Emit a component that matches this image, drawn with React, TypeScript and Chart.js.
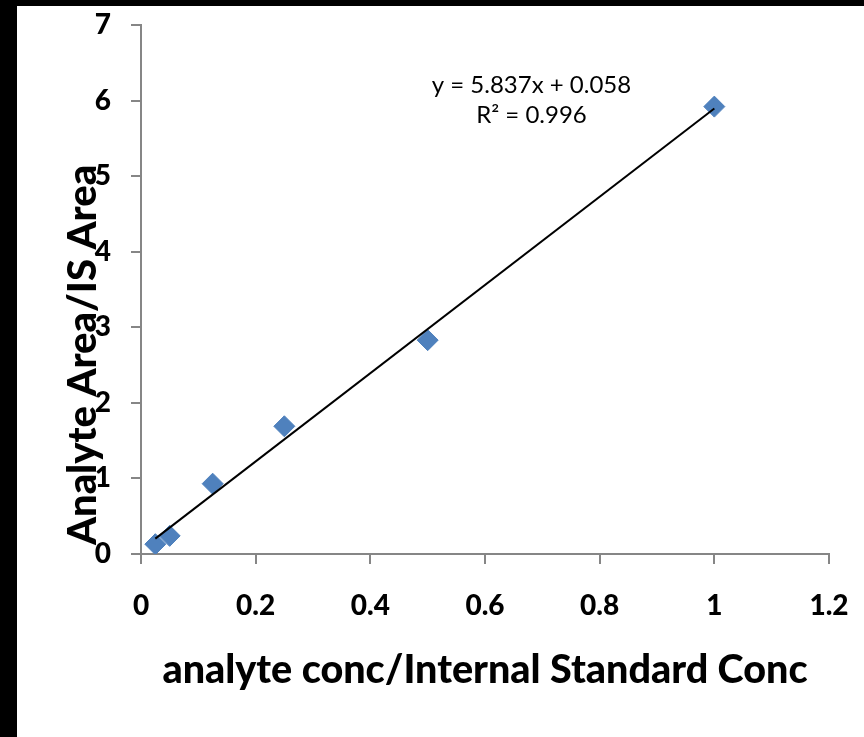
import { useEffect, useRef } from 'react';
import { Chart, registerables } from 'chart.js';

Chart.register(...registerables);

// Data
const concRatio = [0.025, 0.05, 0.125, 0.25, 0.5, 1];
const areaRatio = [0.13, 0.24, 0.93, 1.69, 2.83, 5.92];

// Linear trendline as printed on the chart
const trendSlope = 5.837;
const trendIntercept = 0.058;
const trendRange = [0.025, 1];

const equationText = 'y = 5.837x + 0.058';
const r2Text = 'R² = 0.996';
const xTitle = 'analyte conc/Internal Standard Conc';
const yTitle = 'Analyte Area/IS Area';

const xMin = 0, xMax = 1.2, xStep = 0.2;
const yMin = 0, yMax = 7, yStep = 1;

const FONT = 'Lato, "Open Sans", sans-serif';

export default function App() {
  const ref = useRef<HTMLCanvasElement | null>(null);

  useEffect(() => {
    if (!ref.current) return;
    const deco = {
      id: 'deco',
      beforeDraw(chart: any) {
        const ctx = chart.ctx;
        ctx.save();
        ctx.fillStyle = '#000';
        ctx.fillRect(0, 0, chart.width, chart.height);
        ctx.fillStyle = '#fff';
        ctx.fillRect(17, 6, chart.width - 17, chart.height - 6);
        ctx.restore();
      },
      afterDraw(chart: any) {
        const ctx = chart.ctx;
        const xs = chart.scales.x;
        const ys = chart.scales.y;
        ctx.save();
        ctx.fillStyle = '#000';
        // equation
        ctx.font = `24px ${FONT}`;
        ctx.textAlign = 'center';
        ctx.textBaseline = 'alphabetic';
        const ex = xs.getPixelForValue(0.681);
        ctx.fillText(equationText, ex, ys.getPixelForValue(6.1));
        ctx.fillText(r2Text, ex, ys.getPixelForValue(5.7));
        // x title
        ctx.font = `900 39.5px ${FONT}`;
        ctx.fillText(xTitle, (chart.chartArea.left + chart.chartArea.right) / 2, 683);
        // y title
        ctx.translate(96, 355);
        ctx.rotate(-Math.PI / 2);
        ctx.font = `900 40px ${FONT}`;
        ctx.fillText(yTitle, 0, 0);
        ctx.restore();
      },
    };

    const chart = new Chart(ref.current, {
      type: 'scatter',
      data: {
        datasets: [
          {
            type: 'line',
            label: 'Linear trend',
            data: trendRange.map((x) => ({ x, y: trendSlope * x + trendIntercept })),
            borderColor: '#000',
            borderWidth: 2,
            pointRadius: 0,
            fill: false,
          } as any,
          {
            label: 'Standards',
            data: concRatio.map((x, i) => ({ x, y: areaRatio[i] })),
            pointStyle: 'rectRot',
            pointRadius: 10.5,
            backgroundColor: '#4F81BD',
            borderColor: '#4F81BD',
            borderWidth: 1,
          },
        ],
      },
      options: {
        responsive: false,
        animation: false,
        layout: { padding: { top: 25, right: 35, bottom: 0, left: 0 } },
        plugins: { legend: { display: false }, tooltip: { enabled: false }, title: { display: false } },
        scales: {
          x: {
            type: 'linear',
            min: xMin,
            max: xMax,
            afterFit: (s: any) => {
              s.height = 737 - 554;
              s.paddingLeft = 0;
              s.paddingRight = 0;
            },
            ticks: {
              stepSize: xStep,
              padding: 25,
              color: '#000',
              font: { family: FONT, size: 28, weight: '900' },
              callback: (v: any) => String(Number(Number(v).toFixed(1))),
            },
            grid: { drawOnChartArea: false, drawTicks: true, tickLength: 10, color: '#868686', lineWidth: 2 },
            border: { display: true, color: '#868686', width: 2 },
          },
          y: {
            type: 'linear',
            min: yMin,
            max: yMax,
            afterFit: (s: any) => {
              s.width = 141;
              s.paddingTop = 0;
              s.paddingBottom = 0;
            },
            ticks: {
              stepSize: yStep,
              padding: 20,
              color: '#000',
              font: { family: FONT, size: 28, weight: '900' },
            },
            grid: { drawOnChartArea: false, drawTicks: true, tickLength: 10, color: '#868686', lineWidth: 2 },
            border: { display: true, color: '#868686', width: 2 },
          },
        },
      },
      plugins: [deco],
    });
    return () => chart.destroy();
  }, []);

  return (
    <div style={{ position: 'absolute', left: 0, top: 0, width: 864, height: 737 }}>
      <canvas ref={ref} width={864} height={737} style={{ display: 'block' }} />
    </div>
  );
}
